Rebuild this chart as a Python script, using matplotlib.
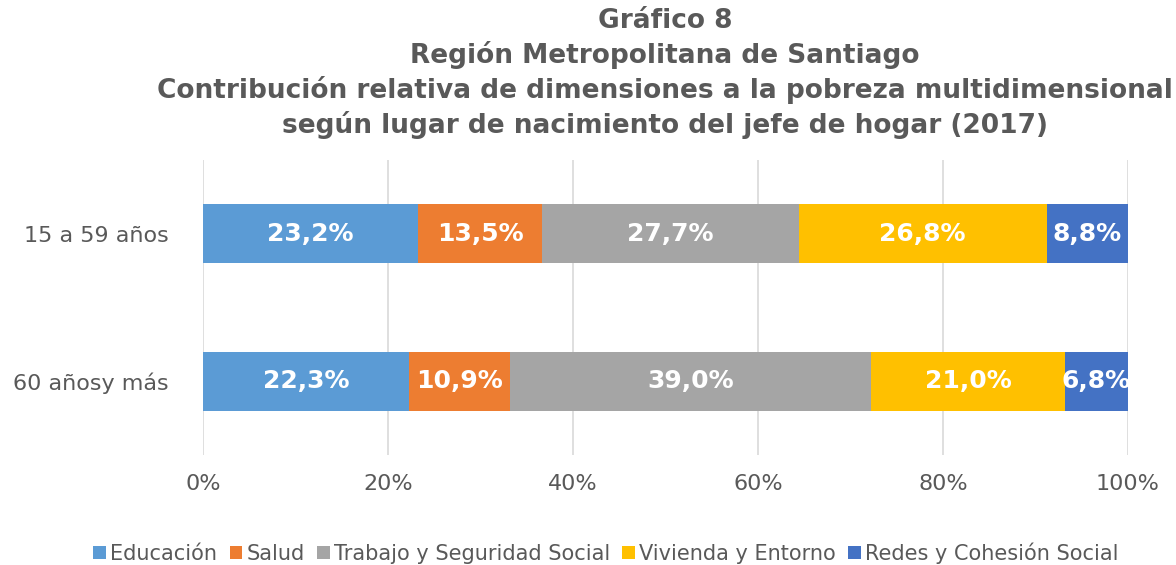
import numpy as np
import matplotlib.pyplot as plt

categories = ["60 añosy más", "15 a 59 años"]
dimensions = ["Educación", "Salud", "Trabajo y Seguridad Social",
              "Vivienda y Entorno", "Redes y Cohesión Social"]
educacion = [22.3, 23.2]
salud = [10.9, 13.5]
trabajo = [39.0, 27.7]
vivienda = [21.0, 26.8]
redes = [6.8, 8.8]
x_ticks = [0, 20, 40, 60, 80, 100]

colors = ["#5B9BD5", "#ED7D31", "#A5A5A5", "#FFC000", "#4472C4"]
text_color = "#595959"

plt.rcParams['font.family'] = ['DejaVu Sans']

fig = plt.figure(figsize=(11.76, 5.65), dpi=100)
ax = fig.add_axes([203/1176, 1 - 455/565, 925/1176, 295/565])

y = np.arange(len(categories))
left = np.zeros(len(categories))
series = [educacion, salud, trabajo, vivienda, redes]
for vals, name, c in zip(series, dimensions, colors):
    vals = np.array(vals)
    bars = ax.barh(y, vals, left=left, height=0.4, color=c, label=name, zorder=3)
    for b, v, l in zip(bars, vals, left):
        ax.text(l + v / 2, b.get_y() + b.get_height() / 2,
                ("%.1f%%" % v).replace(".", ","),
                ha="center", va="center", color="white",
                fontsize=18, fontweight="bold", zorder=4)
    left = left + vals

ax.set_xlim(0, 100)
ax.set_ylim(-0.5, 1.5)
ax.set_xticks(x_ticks)
ax.set_xticklabels(["%d%%" % t for t in x_ticks])
ax.set_yticks(y)
ax.set_yticklabels(categories)
ax.tick_params(axis="both", length=0, labelsize=16, colors=text_color)
ax.tick_params(axis="x", pad=14)
ax.tick_params(axis="y", pad=25)
ax.grid(axis="x", color="#D9D9D9", linewidth=1.2, zorder=0)
for s in ax.spines.values():
    s.set_visible(False)

title = ("Gráfico 8\nRegión Metropolitana de Santiago\n"
         "Contribución relativa de dimensiones a la pobreza multidimensional\n"
         "según lugar de nacimiento del jefe de hogar (2017)")
fig.text(665/1176, 1 - 8/565, title, ha="center", va="top",
         fontsize=19, fontweight="bold", color=text_color, linespacing=1.32)

leg = fig.legend(loc="center", bbox_to_anchor=(606/1176, 12/565), ncol=5,
                 frameon=False, fontsize=15, handlelength=0.6, handleheight=0.6,
                 handletextpad=0.2, columnspacing=0.6)
for t in leg.get_texts():
    t.set_color(text_color)

fig.savefig("out.png", dpi=100)
